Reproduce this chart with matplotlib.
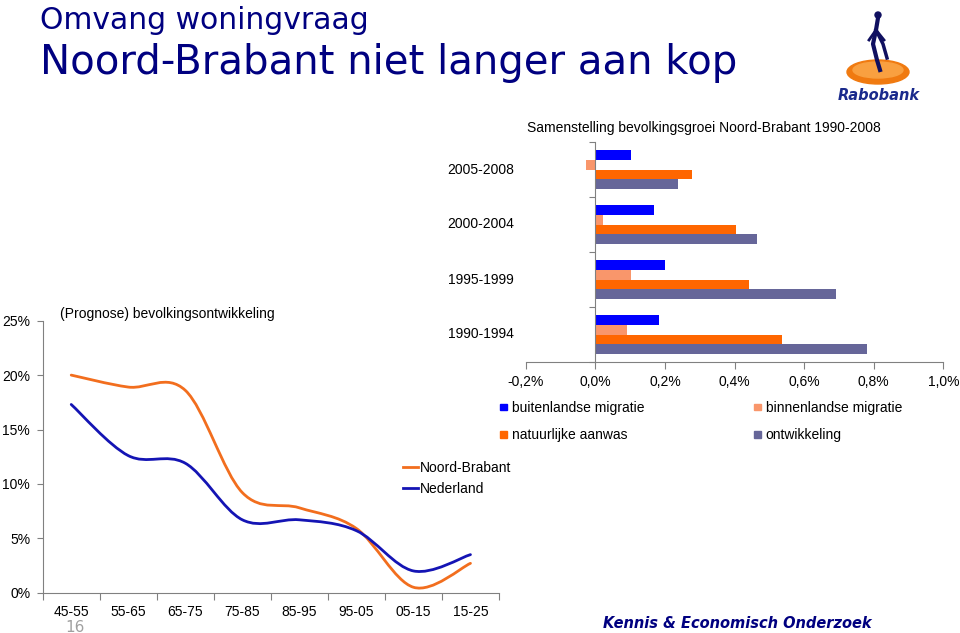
import matplotlib
matplotlib.use('Agg')
import matplotlib.pyplot as plt
import matplotlib.transforms as mtransforms
from matplotlib.path import Path
from matplotlib.patches import PathPatch, Ellipse, Patch
from matplotlib.lines import Line2D
import numpy as np

# line chart: (prognose) bevolkingsontwikkeling per 10 jaar
periods = ['45-55', '55-65', '65-75', '75-85', '85-95', '95-05', '05-15', '15-25']
noord_brabant = [20.0, 18.9, 18.6, 9.2, 7.8, 5.9, 0.5, 2.7]
nederland = [17.3, 12.6, 11.9, 6.7, 6.7, 5.7, 2.0, 3.5]

# bar chart: samenstelling bevolkingsgroei Noord-Brabant
years = ['2005-2008', '2000-2004', '1995-1999', '1990-1994']
buitenlands = [0.102, 0.168, 0.201, 0.183]
binnenlands = [-0.028, 0.022, 0.104, 0.092]
natuurlijk = [0.277, 0.405, 0.441, 0.537]
ontwikkeling = [0.238, 0.465, 0.693, 0.780]
bar_ticks = [-0.2, 0.0, 0.2, 0.4, 0.6, 0.8, 1.0]

NAVY = '#000080'
GREY = '#808080'
ARIAL = 'Liberation Sans'

W, H = 960, 633
fig = plt.figure(figsize=(W / 100, H / 100), dpi=100)


def px_box(x0, y0, x1, y1):
    # pixel box (top-left origin) -> figure fraction rect
    return [x0 / W, 1 - y1 / H, (x1 - x0) / W, (y1 - y0) / H]


def smooth(x, y):
    # excel-like smoothed line (catmull-rom as bezier segments)
    n = len(x)
    verts = [(x[0], y[0])]
    codes = [Path.MOVETO]
    for i in range(n - 1):
        a = max(i - 1, 0)
        d = min(i + 2, n - 1)
        c1 = (x[i] + (x[i + 1] - x[a]) / 6, y[i] + (y[i + 1] - y[a]) / 6)
        c2 = (x[i + 1] - (x[d] - x[i]) / 6, y[i + 1] - (y[d] - y[i]) / 6)
        verts += [c1, c2, (x[i + 1], y[i + 1])]
        codes += [Path.CURVE4] * 3
    return Path(verts, codes)


# ---- titles
fig.text(40 / W, 1 - 29 / H, 'Omvang woningvraag', fontsize=21.5,
         color=NAVY, family='DejaVu Sans', va='baseline')
fig.text(40 / W, 1 - 74 / H, 'Noord-Brabant niet langer aan kop', fontsize=29,
         color=NAVY, family='DejaVu Sans', va='baseline')

# ---- line chart
ax = fig.add_axes(px_box(42.7, 320.7, 499, 592.7))
xs = np.arange(len(periods))
ax.add_patch(PathPatch(smooth(xs, noord_brabant), fill=False, ec='#F26E1E',
                       lw=2.0, capstyle='round'))
ax.add_patch(PathPatch(smooth(xs, nederland), fill=False, ec='#1414B4',
                       lw=2.0, capstyle='round'))
ax.set_xlim(-0.5, len(periods) - 0.5)
ax.set_ylim(0, 25)
ax.set_yticks([0, 5, 10, 15, 20, 25])
ax.set_yticklabels(['%d%%' % v for v in [0, 5, 10, 15, 20, 25]],
                   fontsize=10, family=ARIAL)
ax.set_xticks(np.arange(len(periods) + 1) - 0.5)
ax.set_xticklabels([])
ax.set_xticks(xs, minor=True)
ax.set_xticklabels(periods, minor=True, fontsize=10, family=ARIAL)
ax.tick_params(axis='x', which='major', length=5, color=GREY, direction='out')
ax.tick_params(axis='x', which='minor', length=0, pad=8.5)
ax.tick_params(axis='y', length=4, color=GREY, pad=5)
for s in ['top', 'right']:
    ax.spines[s].set_visible(False)
for s in ['left', 'bottom']:
    ax.spines[s].set_color(GREY)
ax.patch.set_alpha(0)

ax.legend(handles=[Line2D([], [], color='#F26E1E', lw=2.0),
                   Line2D([], [], color='#1414B4', lw=2.0)],
          labels=['Noord-Brabant', 'Nederland'],
          loc='upper left', bbox_to_anchor=(403 / W, 1 - 461 / H),
          bbox_transform=fig.transFigure, frameon=False,
          prop={'family': ARIAL, 'size': 10}, handlelength=1.1,
          handletextpad=0.1, borderpad=0, borderaxespad=0, labelspacing=0.5)

fig.text(60 / W, 1 - 314 / H, '(Prognose) bevolkingsontwikkeling',
         fontsize=10, family=ARIAL, va='center')

# ---- bar chart (inset)
bx = fig.add_axes(px_box(525.7, 142, 943.3, 362))
yy = np.arange(len(years))
h = 0.18
series = [
    (buitenlands, '#0000FF', 'buitenlandse migratie'),
    (binnenlands, '#F9966B', 'binnenlandse migratie'),
    (natuurlijk, '#FF6600', 'natuurlijke aanwas'),
    (ontwikkeling, '#666699', 'ontwikkeling'),
]
for k, (vals, col, lab) in enumerate(series):
    bx.barh(yy + (k - 1.5) * h, vals, height=h, color=col, label=lab)
bx.set_xlim(-0.2, 1.0)
bx.set_ylim(len(years) - 0.5, -0.5)
bx.set_xticks(bar_ticks)
bx.set_xticklabels([('%.1f%%' % v).replace('.', ',') for v in bar_ticks],
                   fontsize=10, family=ARIAL)
bx.tick_params(axis='x', length=5, color=GREY, pad=4)
bx.set_yticks(np.arange(len(years) + 1) - 0.5)
bx.set_yticklabels([])
bx.tick_params(axis='y', length=4, color=GREY)
bx.spines['left'].set_position(('data', 0))
for s in ['top', 'right']:
    bx.spines[s].set_visible(False)
for s in ['left', 'bottom']:
    bx.spines[s].set_color(GREY)
bx.patch.set_alpha(0)

lab_tr = mtransforms.blended_transform_factory(fig.transFigure, bx.transData)
for i, yl in enumerate(years):
    bx.text(514 / W, i, yl, transform=lab_tr, ha='right', va='center',
            fontsize=10, family=ARIAL)

fig.text(704 / W, 1 - 128 / H,
         'Samenstelling bevolkingsgroei Noord-Brabant 1990-2008',
         fontsize=10, family=ARIAL, ha='center', va='center')

order = [0, 2, 1, 3]
handles = [Patch(color=series[i][1]) for i in order]
labels = [series[i][2] for i in order]
fig.legend(handles, labels, ncol=2, loc='upper left',
           bbox_to_anchor=(500 / W, 1 - 401 / H), frameon=False,
           prop={'family': ARIAL, 'size': 10}, handlelength=0.5,
           handleheight=0.38, handletextpad=0.35, columnspacing=7.9,
           borderpad=0, borderaxespad=0, labelspacing=0.95)

# ---- logo
lx = fig.add_axes(px_box(840, 8, 918, 86))
lx.set_xlim(0, 78)
lx.set_ylim(78, 0)
lx.axis('off')
lx.add_patch(Ellipse((38, 64), 62, 24, color='#F07A10'))
lx.add_patch(Ellipse((38, 62), 50, 16, color='#F9A040'))
lx.plot([38, 36, 33, 37, 40], [10, 22, 36, 52, 62], color='#101060', lw=3)
lx.plot([36, 43, 47], [22, 36, 50], color='#101060', lw=2.5)
lx.plot([29, 36, 44], [32, 22, 32], color='#101060', lw=2)
lx.add_patch(Ellipse((38, 7), 6, 6, color='#101060'))
fig.text(879 / W, 1 - 96 / H, 'Rabobank', fontsize=10.5, color='#1A2A8C',
         family='DejaVu Sans', weight='bold', style='italic',
         ha='center', va='center')

# ---- footer
fig.text(603 / W, 1 - 623 / H, 'Kennis & Economisch Onderzoek', fontsize=10.5,
         color=NAVY, family='DejaVu Sans', weight='bold', style='italic',
         va='center')
fig.text(75 / W, 1 - 627 / H, '16', fontsize=11, color='#A0A0A0',
         family='DejaVu Sans', ha='center', va='center')

fig.savefig('out.png', dpi=100)
